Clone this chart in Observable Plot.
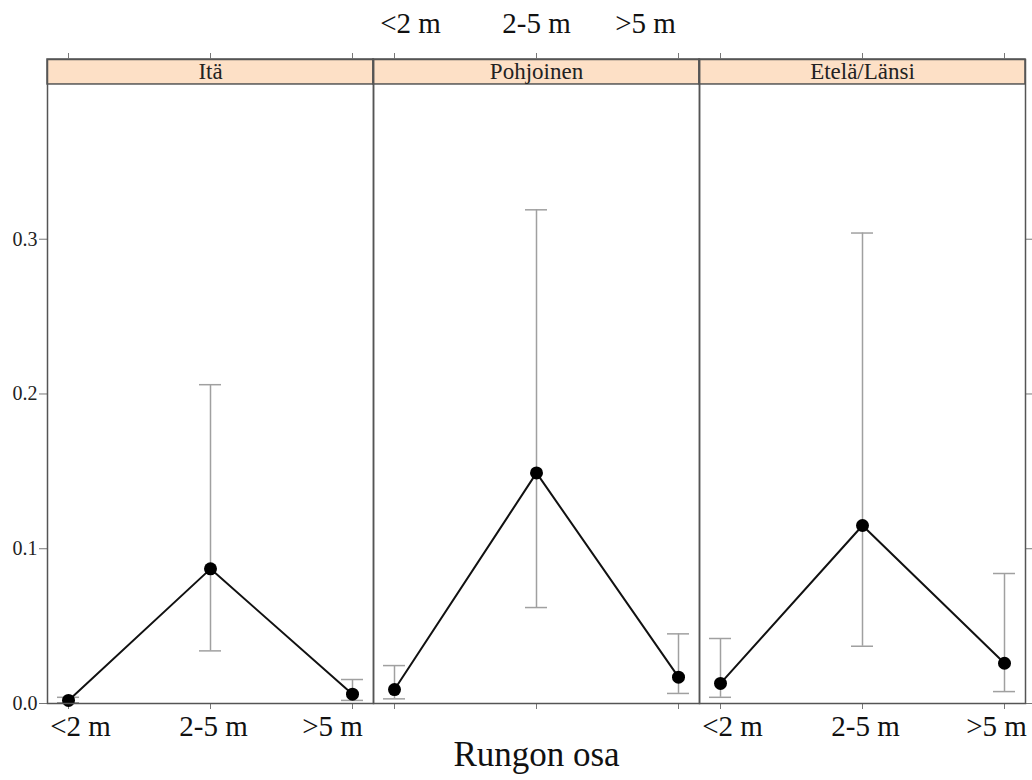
<!DOCTYPE html>
<html>
<head>
<meta charset="utf-8">
<script src="https://cdn.jsdelivr.net/npm/d3@7"></script>
<script src="https://cdn.jsdelivr.net/npm/@observablehq/plot@0.6"></script>
<style>
  html, body { margin: 0; padding: 0; background: #fff; }
  #chart svg { display: block; }
</style>
</head>
<body>
<div id="chart"></div>
<script>
const regions = ["Itä", "Pohjoinen", "Etelä/Länsi"];
const parts = ["<2 m", "2-5 m", ">5 m"];
const meanItä = [0.002, 0.087, 0.006];
const meanPohjoinen = [0.009, 0.149, 0.017];
const meanEteläLänsi = [0.013, 0.115, 0.026];
const lowerItä = [0.0005, 0.034, 0.002];
const lowerPohjoinen = [0.003, 0.062, 0.0065];
const lowerEteläLänsi = [0.004, 0.037, 0.0077];
const upperItä = [0.004, 0.206, 0.0155];
const upperPohjoinen = [0.0245, 0.319, 0.045];
const upperEteläLänsi = [0.042, 0.304, 0.084];
const yTicks = [0, 0.1, 0.2, 0.3];
const xTitle = "Rungon osa";

const means = [meanItä, meanPohjoinen, meanEteläLänsi];
const lowers = [lowerItä, lowerPohjoinen, lowerEteläLänsi];
const uppers = [upperItä, upperPohjoinen, upperEteläLänsi];

const data = [];
regions.forEach((r, i) => parts.forEach((p, j) => {
  data.push({region: r, part: p, mean: means[i][j], lo: lowers[i][j], hi: uppers[i][j]});
}));

const panelTop = 0.4;
const stripTop = 0.4 + 25 / 1550;
const font = "Liberation Serif";

// alternating tick-label placement (lattice style): panel, side, horizontal nudges (px) per label
const labelLayout = [
  {region: "Itä", side: "bottom", nudge: [12, 3, -20]},
  {region: "Pohjoinen", side: "top", nudge: [16, 0, -33]},
  {region: "Etelä/Länsi", side: "bottom", nudge: [12, 3, -8]}
];
const labelMarks = [];
labelLayout.forEach(L => parts.forEach((p, j) => {
  const row = [{region: L.region, part: p}];
  if (L.side === "bottom") {
    labelMarks.push(Plot.text(row, {fx: "region", x: "part", y: 0, dy: 23, dx: L.nudge[j], text: "part", fontSize: 29, fill: "#111"}));
  } else {
    labelMarks.push(Plot.text(row, {fx: "region", x: "part", frameAnchor: "top", dy: -47, dx: L.nudge[j], text: "part", fontSize: 29, fill: "#111"}));
  }
}));

const chart = Plot.plot({
  width: 1032,
  height: 780,
  marginLeft: 47,
  marginRight: 7,
  marginTop: 59,
  marginBottom: 77,
  style: {fontFamily: font, background: "#fff", color: "#222"},
  fx: {domain: regions, padding: 0, axis: null},
  x: {domain: parts, type: "band", paddingInner: 0.8462, paddingOuter: 0.063, axis: null},
  y: {domain: [0, stripTop], axis: null},
  marks: [
    // strips
    Plot.rect(regions, {fx: d => d, y1: panelTop, y2: stripTop, fill: "#fde0c6", stroke: "#555", strokeWidth: 1.5}),
    Plot.text(regions, {fx: d => d, text: d => d, y: (panelTop + stripTop) / 2, fontSize: 23, fill: "#222"}),
    // axes
    Plot.axisY({anchor: "left", ticks: yTicks, tickSize: 8, tickFormat: () => "", label: null, stroke: "#777"}),
    Plot.text(yTicks, {fx: () => "Itä", y: d => d, frameAnchor: "left", textAnchor: "end", dx: -10, text: d3.format(".1f"), fontSize: 20, fill: "#222"}),
    Plot.axisY({anchor: "right", ticks: yTicks, tickSize: 7, tickFormat: () => "", label: null, stroke: "#777"}),
    Plot.axisX({anchor: "bottom", tickSize: 6, tickFormat: () => "", label: null, stroke: "#777"}),
    Plot.axisX({anchor: "top", tickSize: 7, tickFormat: () => "", label: null, stroke: "#777"}),
    ...labelMarks,
    Plot.text([xTitle], {fx: () => "Pohjoinen", frameAnchor: "bottom", dy: 62, text: d => d, fontSize: 35, fill: "#111"}),
    // error bars
    Plot.ruleX(data, {fx: "region", x: "part", y1: "lo", y2: "hi", stroke: "#a0a0a0", strokeWidth: 1.5}),
    Plot.tickY(data, {fx: "region", x: "part", y: "hi", stroke: "#a0a0a0", strokeWidth: 1.5}),
    Plot.tickY(data, {fx: "region", x: "part", y: "lo", stroke: "#a0a0a0", strokeWidth: 1.5}),
    // line + points
    Plot.line(data, {fx: "region", x: "part", y: "mean", stroke: "#111", strokeWidth: 2}),
    Plot.dot(data, {fx: "region", x: "part", y: "mean", r: 6.5, fill: "#000"}),
    Plot.frame({stroke: "#555", strokeWidth: 1.5})
  ]
});
document.getElementById("chart").appendChild(chart);
</script>
</body>
</html>
